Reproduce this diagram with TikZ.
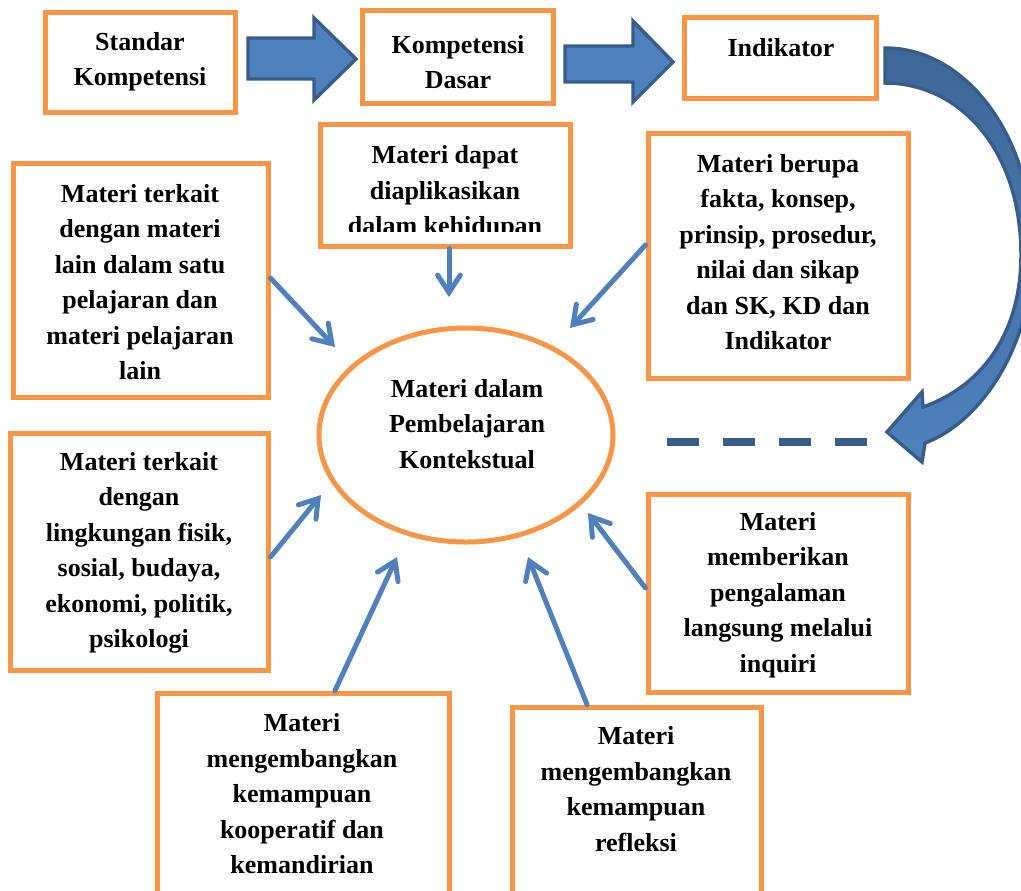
\documentclass[tikz,border=0pt]{standalone}
\usepackage{fontspec}
\setmainfont{Liberation Serif}
\usetikzlibrary{fit,shapes.geometric,arrows.meta}
\definecolor{boxorange}{HTML}{F79646}
\definecolor{arrowblue}{HTML}{4F81BD}
\definecolor{edgeblue}{HTML}{385D8A}
\definecolor{backblue}{HTML}{3F6797}
\tikzset{
  box/.style={draw=boxorange, line width=3.75pt, fill=white, inner sep=0pt, rectangle},
  txt/.style={align=center, font=\bfseries\fontsize{19.5}{26.6}\selectfont, inner sep=0pt},
  conn/.style={draw=arrowblue, line width=3.75pt, line cap=round,
    -{Straight Barb[length=13pt, width=17pt, line cap=round]}},
  blockarrow/.style={fill=arrowblue, draw=edgeblue, line width=2.6pt, line join=miter},
  dashline/.style={draw=edgeblue, line width=6pt, dash pattern=on 24pt off 18pt}
}
\begin{document}
\begin{tikzpicture}[x=0.75pt, y=-0.75pt]
\useasboundingbox (0,0) rectangle (1021,890);
\clip (0,0) rectangle (1021,890);

% top row
\node[box, fit={(45,12) (235,112)}] (sk) {};
\node[txt] (tsk) at (140,62) {Standar\\Kompetensi};
\node[box, fit={(362,10) (553,103)}] (kd) {};
\node[txt] (tkd) at (458,62) {Kompetensi\\Dasar};
\node[box, fit={(684,17) (876,98)}] (ind) {};
\node[txt] (tind) at (781,48) {Indikator};

% block arrows
\path[blockarrow] (248,38) -- (314,38) -- (314,18) -- (356,59) -- (314,100) -- (314,79) -- (248,79) -- cycle;
\path[blockarrow] (565,46) -- (633,46) -- (633,21) -- (673,62) -- (633,102) -- (633,82) -- (565,82) -- cycle;

% curved arrow
\path[draw=edgeblue, line width=2.6pt, line join=miter, top color=backblue, bottom color=arrowblue]
  (885,48) .. controls (967,48) and (1033,138) .. (1033,250)
  .. controls (1033,340) and (985,420) .. (925,443)
  -- (922,462) -- (887,432) -- (922,392) -- (923,407)
  .. controls (985,385) and (1021,330) .. (1021,255)
  .. controls (1021,150) and (960,83) .. (885,83) -- cycle;

% dashed line
\coordinate (dla) at (667,442);
\coordinate (dlb) at (867,442);
\draw[dashline] (dla) -- (dlb);

% middle boxes
\node[box, fit={(320,124) (570,246)}] (md) {};
\begin{scope}
  \clip (322,126) rectangle (568,231);
  \node[txt] (tmd) at (445,193) {Materi dapat\\diaplikasikan\\dalam kehidupan};
\end{scope}

\node[box, fit={(13,163) (268,397)}] (lt) {};
\node[txt] (tlt) at (140,282) {Materi terkait\\dengan materi\\lain dalam satu\\pelajaran dan\\materi pelajaran\\lain};

\node[box, fit={(648,133) (908,378)}] (rt) {};
\node[txt] (trt) at (778,252) {Materi berupa\\fakta, konsep,\\prinsip, prosedur,\\nilai dan sikap\\dan SK, KD dan\\Indikator};

\node[draw=boxorange, line width=3.75pt, ellipse, minimum width=220.5pt, minimum height=160.5pt, inner sep=0pt] (el) at (466,435) {};
\node[txt] (tel) at (467,424) {Materi dalam\\Pembelajaran\\Kontekstual};

\node[box, fit={(10,433) (268,670)}] (lm) {};
\node[txt] (tlm) at (139,553) {Materi terkait\\dengan\\lingkungan fisik,\\sosial, budaya,\\ekonomi, politik,\\psikologi};

\node[box, fit={(648,494) (908,692)}] (rm) {};
\node[txt] (trm) at (778,595) {Materi\\memberikan\\pengalaman\\langsung melalui\\inquiri};

\node[box, fit={(157,693) (449,930)}] (bl) {};
\node[txt] (tbl) at (302,794) {Materi\\mengembangkan\\kemampuan\\kooperatif dan\\kemandirian};

\node[box, fit={(512,707) (761,930)}] (br) {};
\node[txt] (tbr) at (636,789) {Materi\\mengembangkan\\kemampuan\\refleksi};

% arrow targets
\coordinate (e1) at (335,347);
\coordinate (e2) at (570,328);
\coordinate (e3) at (449,297);
\coordinate (e4) at (321,495);
\coordinate (e5) at (588,513);
\coordinate (e6) at (397,557);
\coordinate (e7) at (528,557);

\draw[conn] (lt.east |- 0,278) -- (e1);
\draw[conn] (rt.west |- 0,245) -- (e2);
\draw[conn] (md.south -| 449,0) -- (e3);
\draw[conn] (lm.east |- 0,557) -- (e4);
\draw[conn] (rm.west |- 0,588) -- (e5);
\draw[conn] (bl.north -| 335,0) -- (e6);
\draw[conn] (br.north -| 587,0) -- (e7);
\end{tikzpicture}
\end{document}
